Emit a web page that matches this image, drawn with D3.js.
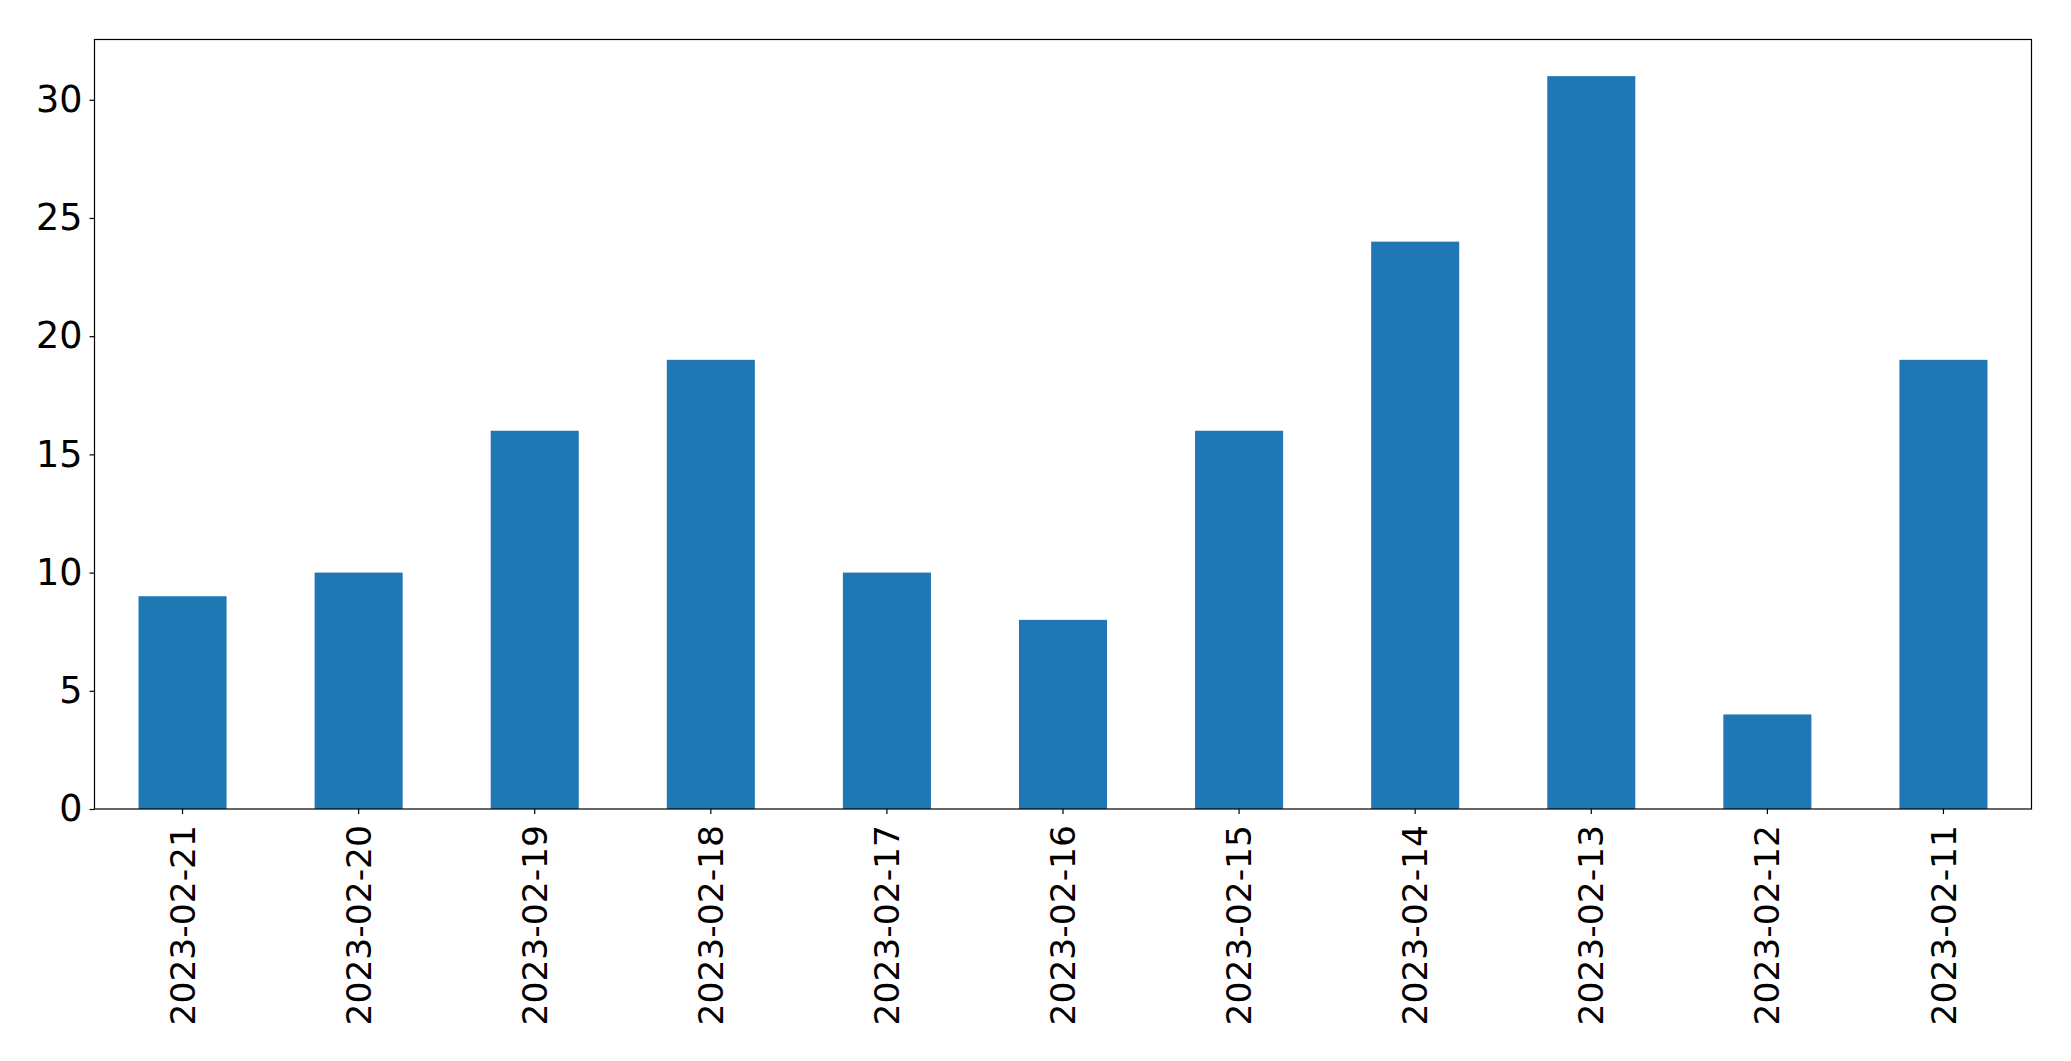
<!DOCTYPE html>
<html><head><meta charset="utf-8">
<script src="https://cdn.jsdelivr.net/npm/d3@7"></script>
<style>html,body{margin:0;padding:0;background:#fff;} svg{display:block;}</style>
</head><body>
<script>
const categories = ["2023-02-21","2023-02-20","2023-02-19","2023-02-18","2023-02-17","2023-02-16","2023-02-15","2023-02-14","2023-02-13","2023-02-12","2023-02-11"];
const values = [9,10,16,19,10,8,16,24,31,4,19];
const yTicks = [0,5,10,15,20,25,30];

const W = 2071, H = 1061;
const m = {left: 94.5, right: W - 2031.5, top: 39.5, bottom: H - 809};
const svg = d3.select("body").append("svg").attr("width", W).attr("height", H);
const g = svg.append("g").attr("transform", `translate(${m.left},${m.top})`);
const iw = W - m.left - m.right, ih = H - m.top - m.bottom;

const x = d3.scaleBand().domain(categories).range([0, iw]).paddingInner(0.5).paddingOuter(0.25);
const y = d3.scaleLinear().domain([0, d3.max(values) * 1.05]).range([ih, 0]);

g.selectAll("rect.bar").data(values).enter().append("rect")
  .attr("class","bar")
  .attr("x", (d,i) => x(categories[i]))
  .attr("y", d => y(d))
  .attr("width", x.bandwidth())
  .attr("height", d => ih - y(d))
  .attr("fill", "#1f77b4");

const font = "'DejaVu Sans', sans-serif";
const yAxis = g.append("g").call(d3.axisLeft(y).tickValues(yTicks).tickSize(5).tickPadding(7).tickFormat(d3.format("d")));
yAxis.select(".domain").remove();
yAxis.selectAll("text").attr("font-family", font).attr("font-size", 36.5).attr("fill","#000");
yAxis.selectAll("line").attr("stroke","#000").attr("stroke-width",1.2);

const xAxis = g.append("g").attr("transform", `translate(0,${ih})`).call(d3.axisBottom(x).tickSize(5).tickPadding(0));
xAxis.select(".domain").remove();
xAxis.selectAll("line").attr("stroke","#000").attr("stroke-width",1.2);
xAxis.selectAll("text")
  .attr("font-family", font).attr("font-size", 34.5).attr("fill","#000")
  .attr("transform", "translate(0,16) rotate(-90)")
  .attr("text-anchor", "end").attr("dy", "0.35em").attr("x", 0).attr("y", 0);

g.append("rect").attr("x",0).attr("y",0).attr("width",iw).attr("height",ih)
  .attr("fill","none").attr("stroke","#000").attr("stroke-width",1.2);
</script>
</body></html>
